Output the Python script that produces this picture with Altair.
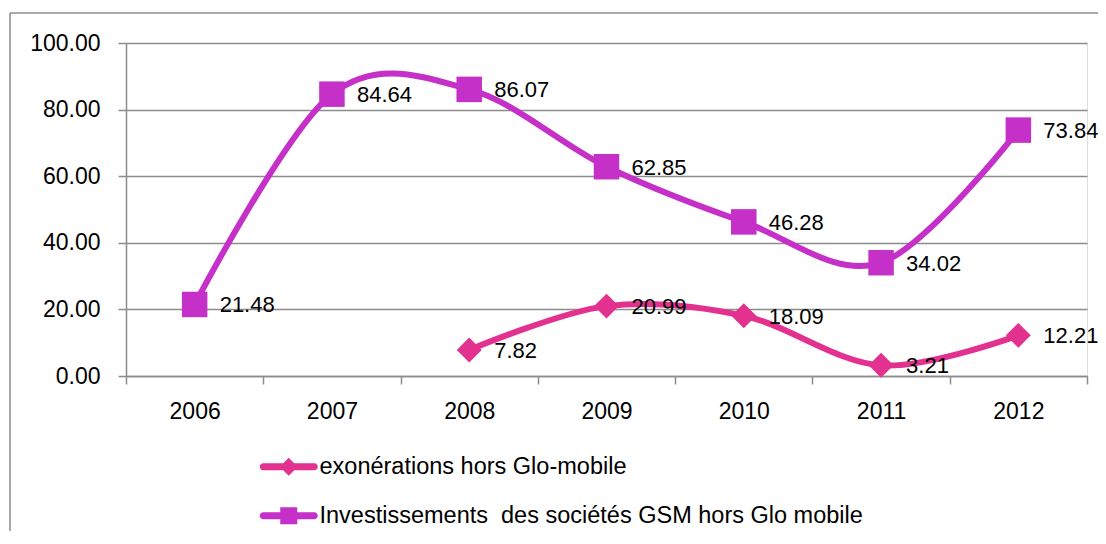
import altair as alt
import pandas as pd

# ---- data ----
years = ["2006", "2007", "2008", "2009", "2010", "2011", "2012"]
invest_values = [21.48, 84.64, 86.07, 62.85, 46.28, 34.02, 73.84]
exo_years = ["2008", "2009", "2010", "2011", "2012"]
exo_values = [7.82, 20.99, 18.09, 3.21, 12.21]
series_names = ["exonérations hors Glo-mobile",
                "Investissements \u00a0des sociétés GSM hors Glo mobile"]
series_colors = ["#E2318E", "#C530C8"]
y_ticks = [0, 20, 40, 60, 80, 100]

inv_df = pd.DataFrame({"year": years, "value": invest_values, "series": series_names[1]})
exo_df = pd.DataFrame({"year": exo_years, "value": exo_values, "series": series_names[0]})
all_df = pd.concat([exo_df, inv_df], ignore_index=True)

# ---- style ----
FONT = "Liberation Sans"
GRAY = "#8c8c8c"
W, H = 961, 333
C_EXO, C_INV = series_colors

# legend symbols: rounded line segment with a marker in the middle (pixel units, size=4 -> scale 1)
seg = "M-25.5,-3.5H25.5A3.5,3.5 0 0 1 25.5,3.5H-25.5A3.5,3.5 0 0 1 -25.5,-3.5Z"
sym_exo = seg + " M0,-9L9,0L0,9L-9,0Z"
sym_inv = seg + " M-8.5,-8.5H8.5V8.5H-8.5Z"

x = alt.X(
    "year:O", sort=years,
    scale=alt.Scale(type="band", domain=years, paddingInner=0, paddingOuter=0),
    axis=alt.Axis(title=None, tickBand="extent", grid=False, tickSize=8,
                  tickColor=GRAY, tickWidth=1.5, domainColor=GRAY, domainWidth=1.5,
                  labelPadding=16, labelFontSize=23, labelFont=FONT,
                  labelColor="black", labelAngle=0),
)
y = alt.Y(
    "value:Q",
    scale=alt.Scale(domain=[0, 100], nice=False, zero=True),
    axis=alt.Axis(title=None, values=y_ticks, format=".2f", grid=True,
                  gridColor=GRAY, gridWidth=1.5, tickSize=8, tickColor=GRAY,
                  tickWidth=1.5, domainColor=GRAY, domainWidth=1.5,
                  labelPadding=18, labelFontSize=23, labelFont=FONT,
                  labelColor="black"),
)

inv_line = alt.Chart(inv_df).mark_line(
    color=C_INV, strokeWidth=6, interpolate="cardinal"
).encode(x=x, y=y)
exo_line = alt.Chart(exo_df).mark_line(
    color=C_EXO, strokeWidth=6, interpolate="cardinal"
).encode(x=x, y=y)

inv_pts = alt.Chart(inv_df).mark_point(
    shape="square", filled=True, size=650, color=C_INV, opacity=1
).encode(x=x, y=y)
exo_pts = alt.Chart(exo_df).mark_point(
    shape="diamond", filled=True, size=620, color=C_EXO, opacity=1
).encode(x=x, y=y)

labels = alt.Chart(all_df).mark_text(
    align="left", baseline="middle", dx=25, dy=1, fontSize=22, font=FONT, color="black"
).encode(x=x, y=y, text=alt.Text("value:Q", format=".2f"))

legend_kw = dict(title=None, orient="none", legendX=133, legendY=412,
                 symbolSize=4, symbolOffset=18, labelOffset=19,
                 symbolStrokeWidth=0, labelFontSize=23.5, labelFont=FONT,
                 labelColor="black", labelLimit=1000, rowPadding=24)

legend_layer = alt.Chart(all_df).transform_filter("datum.value < -1000").mark_point(
    filled=True, size=4, opacity=1
).encode(
    x=x, y=y,
    color=alt.Color("series:N", scale=alt.Scale(domain=series_names, range=series_colors),
                    legend=alt.Legend(**legend_kw)),
    shape=alt.Shape("series:N", scale=alt.Scale(domain=series_names, range=[sym_exo, sym_inv]),
                    legend=alt.Legend(**legend_kw)),
)

frame_data = alt.Data(values=[{}])
frame_top = alt.Chart(frame_data).mark_rule(color=GRAY, strokeWidth=1.5).encode(
    x=alt.value(-116), x2=alt.value(W + 200), y=alt.value(-30))
frame_left = alt.Chart(frame_data).mark_rule(color=GRAY, strokeWidth=1.5).encode(
    x=alt.value(-116), y=alt.value(-30), y2=alt.value(H + 300))

chart = alt.layer(
    frame_top, frame_left, inv_line, exo_line, inv_pts, exo_pts, labels, legend_layer
).properties(
    width=W, height=H,
    autosize=alt.AutoSizeParams(type="none"),
    padding={"left": 118, "top": 35, "right": 11, "bottom": 155},
).configure_view(stroke=None).configure(font=FONT)

chart.save("out.html", embed_options={"renderer": "svg", "actions": False})
